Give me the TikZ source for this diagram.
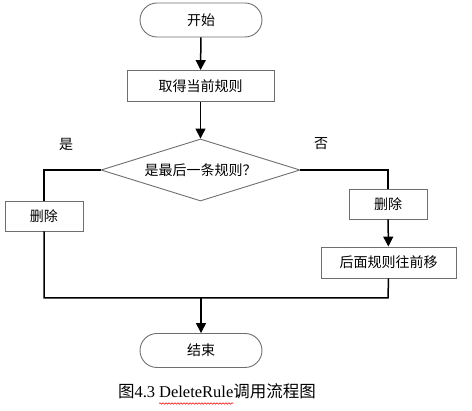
\documentclass[tikz,border=0pt]{standalone}
\usepackage{fontspec}
\setmainfont{Liberation Serif}
\newfontfamily\cjk{Noto Sans CJK SC}
\usetikzlibrary{arrows.meta,shapes.geometric,decorations.pathmorphing}
\definecolor{boxgray}{RGB}{110,110,110}
\tikzset{
  every node/.style={font=\cjk\fontsize{14pt}{16pt}\selectfont, inner sep=0pt},
  terminal/.style={draw=boxgray, line width=0.9pt, rounded corners=17pt, minimum width=122pt, minimum height=34pt},
  procbox/.style={draw=boxgray, line width=0.9pt, minimum height=31pt},
  decision/.style={draw=boxgray, line width=0.9pt, diamond, aspect=3.2, minimum width=199pt, minimum height=62pt},
  conn/.style={line width=1.5pt, black},
  arr/.style={conn, -{Triangle[width=10pt,length=10pt]}},
  lbl/.style={font=\cjk\fontsize{14pt}{16pt}\selectfont},
  captext/.style={inner sep=0pt, outer sep=0pt, anchor=base west, font=\fontsize{16.5pt}{19pt}\selectfont}
}
\begin{document}
\begin{tikzpicture}[x=1pt,y=-1pt]
\useasboundingbox (0,0) rectangle (472,411);
\node[terminal] (start) at (201,20) {开始};
\node[procbox, minimum width=147pt] (get) at (200.5,86) {取得当前规则};
\node[decision] (dec) at (200.5,170) {是最后一条规则？};
\node[lbl] (yes) at (66,144) {是};
\node[lbl] (no) at (321,144) {否};
\node[procbox, minimum width=78pt, minimum height=30pt] (delL) at (44,216) {删除};
\node[procbox, minimum width=78pt, minimum height=30pt] (delR) at (388,204) {删除};
\node[procbox, minimum width=135pt] (shift) at (388.5,262.5) {后面规则往前移};
\node[terminal] (end) at (201,350.5) {结束};
\coordinate (jL) at (44,298);
\coordinate (jR) at (388,298);
\coordinate (jM) at (201,298);
\coordinate (cL) at (44,170);
\coordinate (cR) at (388,170);

\draw[arr] (start) -- (get);
\draw[arr] (get) -- (dec);
\draw[conn] (dec.west) -- (cL) -- (delL.north);
\draw[conn] (delL.south) -- (jL) -- (jR) -- (shift.south);
\draw[conn] (dec.east) -- (cR) -- (delR.north);
\draw[arr] (delR) -- (shift);
\draw[arr] (jM) -- (end);

\node[captext] (capA) at (118,398) {{\cjk 图}4.3\kern4pt};
\node[captext] (capB) at (capA.base east) {DeleteRule};
\node[captext] (capC) at (capB.base east) {{\cjk 调用流程图}};
\draw[red, line width=0.5pt, decorate, decoration={snake, amplitude=0.8pt, segment length=3pt}] ([yshift=-5.5pt]capB.base west) -- ([yshift=-5.5pt]capB.base east);
\end{tikzpicture}
\end{document}
